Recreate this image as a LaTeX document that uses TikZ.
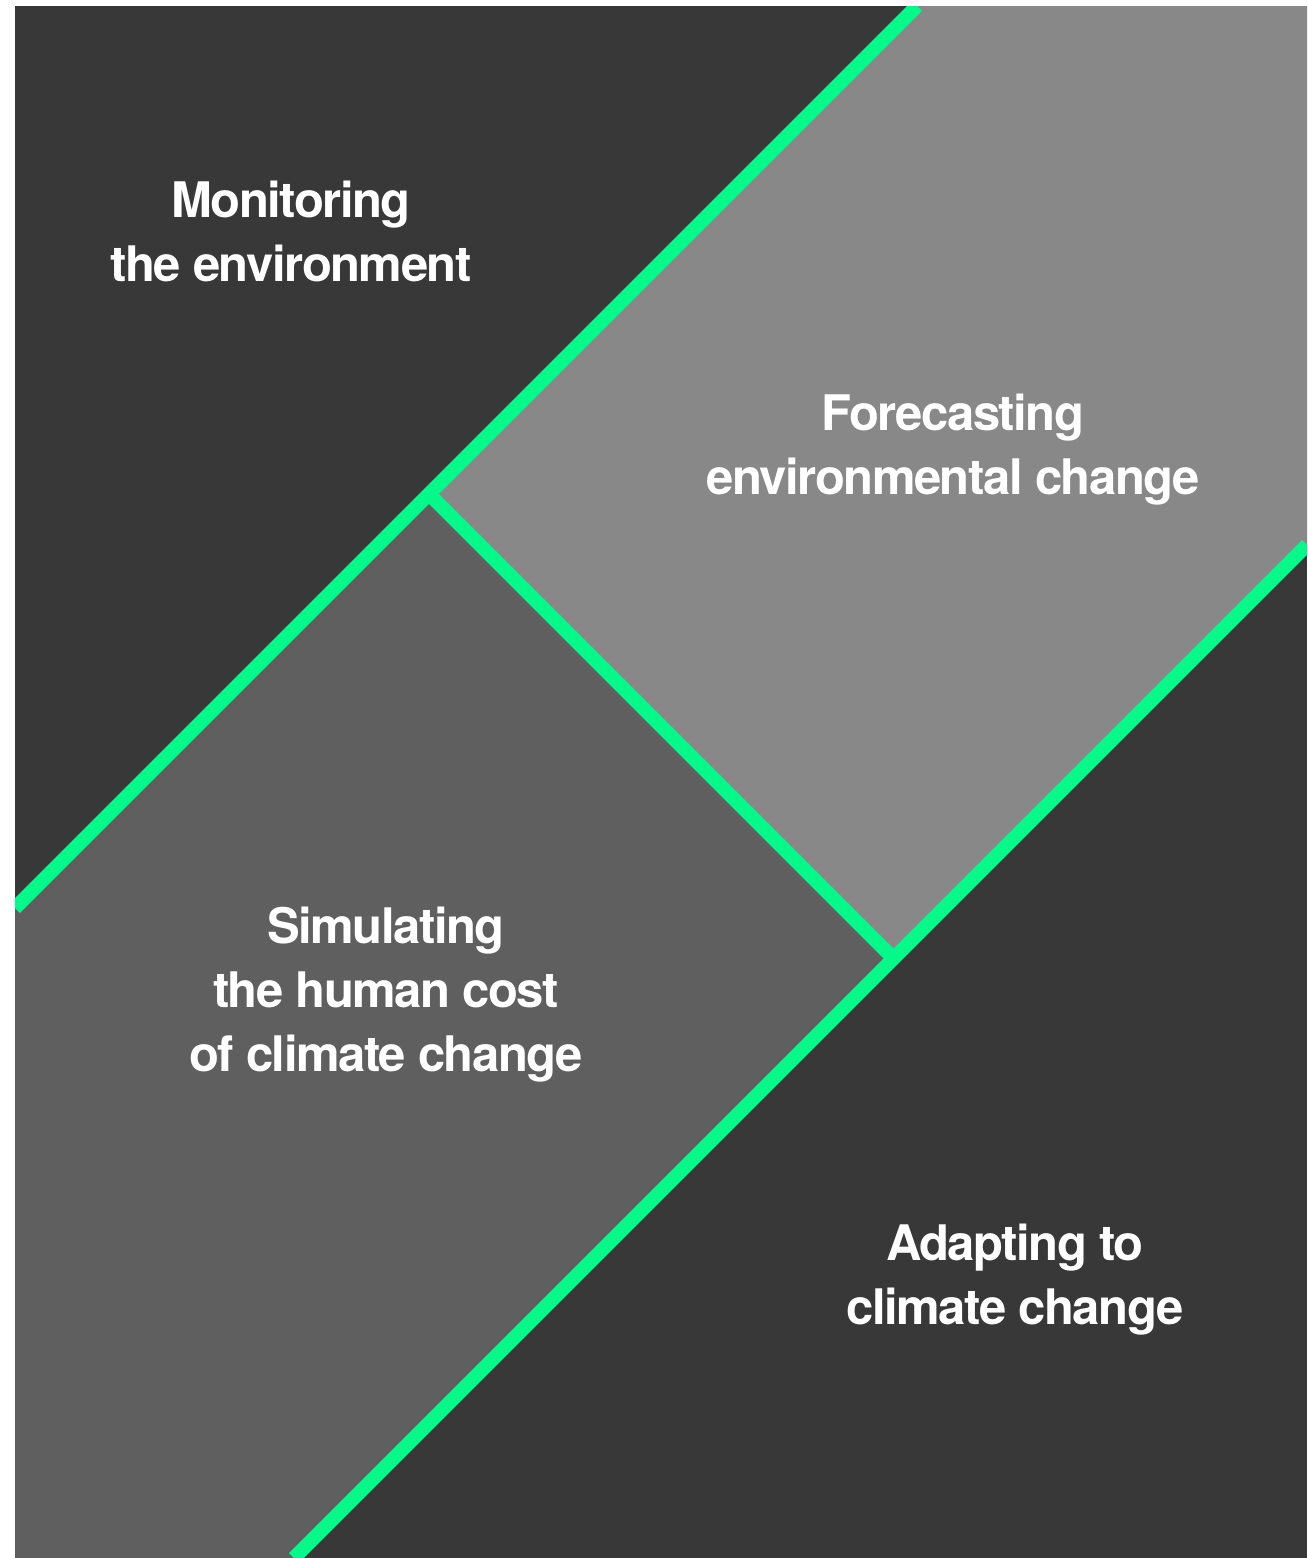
\documentclass[tikz,border=0pt]{standalone}
\usepackage{fontspec}
\setmainfont{TeX Gyre Heros}[LetterSpace=-3]
\usepackage{tikz}
\usetikzlibrary{positioning}
\definecolor{paneldark}{HTML}{383838}
\definecolor{panelmid}{HTML}{5F5F5F}
\definecolor{panellight}{HTML}{888888}
\definecolor{edgegreen}{HTML}{05F98A}

\begin{document}
\begin{tikzpicture}[x=1pt,y=-1pt,
    seam/.style={edgegreen,line width=14pt},
    label/.style={text=white,font=\fontsize{49}{64}\selectfont\bfseries,align=center}]
  \useasboundingbox[fill=white] (0,0) rectangle (1307,1558);

  % Corner points of the panel
  \coordinate (tl) at (15,6);
  \coordinate (br) at (1307,1558);

  % Ends of the three seams
  \coordinate (upTop) at (917,6);
  \coordinate (upLeft) at (15,908);
  \coordinate (lowRight) at (1307,545);
  \coordinate (lowBottom) at (294,1558);
  \coordinate (splitA) at (429,494);
  \coordinate (splitB) at (893.5,958.5);

  \begin{scope}
    \clip (tl) rectangle (br);
    % Background
    \fill[paneldark] (tl) rectangle (br);

    % Diagonal band, right half
    \fill[panellight] (upTop) -- (1307,6) -- (lowRight) -- (splitB) -- (splitA) -- cycle;
    % Diagonal band, left half
    \fill[panelmid] (splitA) -- (splitB) -- (lowBottom) -- (15,1558) -- (upLeft) -- cycle;

    % Seams
    \draw[seam] (upTop) -- (upLeft);
    \draw[seam] (lowRight) -- (lowBottom);
    \draw[seam] (splitA) -- (splitB);
  \end{scope}

  % Labels
  \node[label] (monitor) at (291,231) {Monitoring\\the environment};
  \node[label] (forecast) at (953,450) {Forecasting\\environmental change};
  \node[label] (simulate) at (386,995) {Simulating\\the human cost\\of climate change};
  \node[label] (adapt) at (1015,1280) {Adapting to\\climate change};
\end{tikzpicture}
\end{document}
